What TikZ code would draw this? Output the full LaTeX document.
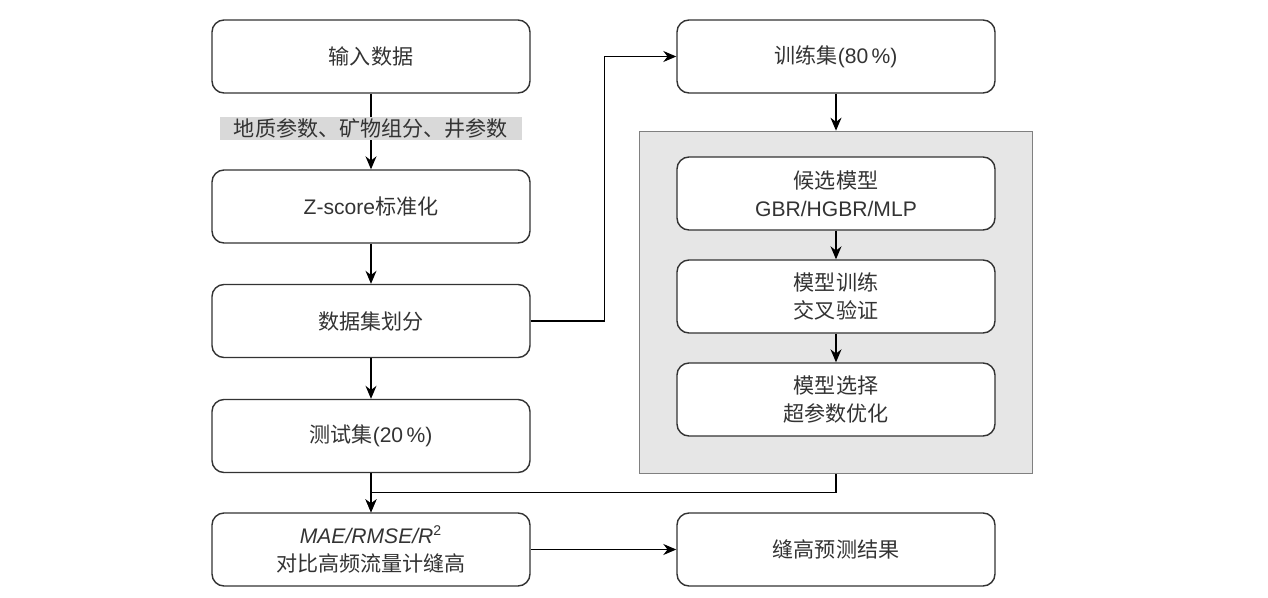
\documentclass[tikz,border=0pt]{standalone}
\usepackage{fontspec}
\setmainfont{Liberation Sans}
\newfontfamily\cjk{Noto Sans CJK SC}
\usepackage{tikz}
\usetikzlibrary{backgrounds,calc,fit,arrows.meta}
\definecolor{tagGray}{RGB}{217,217,217}
\definecolor{panelGray}{RGB}{230,230,230}
\definecolor{edgeGray}{RGB}{51,51,51}
\def\myGrid{1}

\begin{document}
\begin{tikzpicture}[>={Stealth[length=2.6mm,width=2.2mm]}]
      \tikzstyle{every node} = [font=\fontsize{12}{16}\selectfont, text=edgeGray]
      \tikzstyle{block} = [draw=edgeGray, line width=0.8pt, rectangle, fill=white, rounded corners=2.4mm, minimum height=1.46 cm, minimum width=6.36 cm, align=center]
      \tikzstyle{tag} = [fill=tagGray, minimum width=6.04 cm, minimum height=0.46 cm, inner sep=0pt]
      \tikzstyle{panel} = [draw=gray, line width=0.7pt, fill=panelGray, inner sep=0pt]
      \tikzstyle{link} = [draw=black, line width=0.7pt]
      \useasboundingbox (0,0) rectangle (25.36,-11.94);
      % left column
      \node[block] (input) at (7.42,-1.13) {\cjk 输入数据};
      \node[block, below of=input, node distance=3 cm] (zscore) {Z-score{\cjk 标准化}};
      \node[block, below of=zscore, node distance=2.29 cm] (split) {\cjk 数据集划分};
      \node[block, below of=split, node distance=2.3 cm] (test) {{\cjk 测试集}(20\,\%)};
      \node[block, below of=test, node distance=2.27 cm] (metric) {\textit{MAE/RMSE/R}\textsuperscript{2}\\{\cjk 对比高频流量计缝高}};
      % right column
      \node[block, right of=input, node distance=9.3 cm] (train) {{\cjk 训练集}(80\,\%)};
      \node[block, below of=train, node distance=2.74 cm] (cand) {{\cjk 候选模型}\\GBR/HGBR/MLP};
      \node[block, below of=cand, node distance=2.06 cm] (fitting) {{\cjk 模型训练}\\{\cjk 交叉验证}};
      \node[block, below of=fitting, node distance=2.06 cm] (select) {{\cjk 模型选择}\\{\cjk 超参数优化}};
      \node[block, right of=metric, node distance=9.3 cm] (result) {\cjk 缝高预测结果};
      % Layers
      \coordinate (pTL) at ($(cand.north west)+(-0.74*\myGrid,0.5*\myGrid)$);
      \coordinate (pBR) at ($(select.south east)+(0.74*\myGrid,-0.74*\myGrid)$);
      \begin{pgfonlayer}{background}
        \node[panel, fit=(pTL)(pBR)] (panel) {};
      \end{pgfonlayer}
      % Connections
      \draw[link,->]
      (input) -- node[tag, pos=0.46]{\cjk 地质参数、矿物组分、井参数}(zscore);
      \draw[link,->]
      (zscore) -- (split);
      \draw[link,->]
      (split) -- (test);
      \draw[link,->]
      (test) -- (metric);
      \draw[link,->]
      (split.east) -- ++(1.48*\myGrid,0) |- (train.west);
      \draw[link,->]
      (train) -- (panel.north);
      \draw[link,->]
      (cand) -- (fitting);
      \draw[link,->]
      (fitting) -- (select);
      \draw[link,->]
      (panel.south) |- ($(test.south)!0.5!(metric.north)$) -- (metric.north);
      \draw[link,->]
      (metric) -- (result);
\end{tikzpicture}
\end{document}
